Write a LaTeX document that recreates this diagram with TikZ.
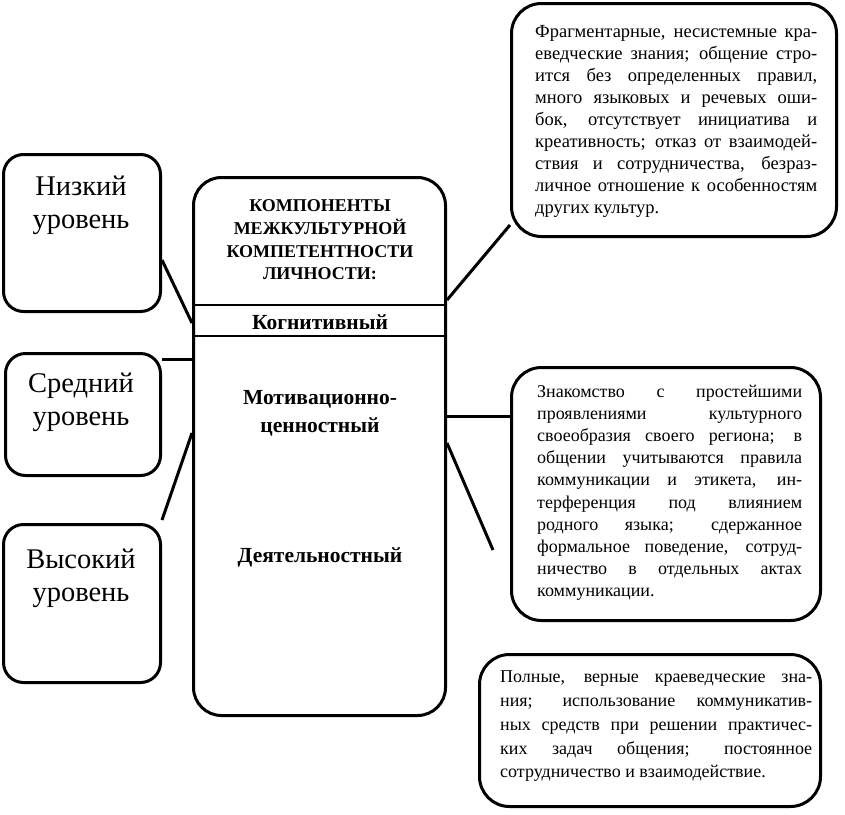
\documentclass[tikz,border=0pt]{standalone}
\usepackage{fontspec}
\setmainfont{Liberation Serif}
\begin{document}
\begin{tikzpicture}[x=1pt,y=-1pt,
  box/.style={draw, line width=3pt, rounded corners=#1, inner sep=0pt},
  box/.default=20pt,
  conn/.style={line width=3pt},
  sep/.style={line width=1.3pt},
  lvl/.style={font=\fontsize{28.5}{33}\selectfont, align=center, inner sep=0pt},
  head/.style={font=\fontsize{18}{22.7}\selectfont\bfseries, align=center, inner sep=0pt},
  comp/.style={font=\fontsize{21.5}{28}\selectfont\bfseries, align=center, inner sep=0pt},
  desc/.style={align=justify, inner sep=0pt, anchor=north west},
  dfont/.style 2 args={font=\fontsize{#1}{#2}\selectfont}]
\useasboundingbox (0,0) rectangle (845,814);
% boxes
\node[box, minimum width=157pt, minimum height=157pt] (low) at (82,233) {};
\node[box, minimum width=155pt, minimum height=122pt] (mid) at (83,414.5) {};
\node[box, minimum width=157pt, minimum height=158pt] (high) at (82,603.5) {};
\node[box=28pt, minimum width=252pt, minimum height=538pt] (core) at (319.5,446.5) {};
\node[box=30pt, minimum width=325pt, minimum height=233pt] (tr) at (674,120) {};
\node[box=30pt, minimum width=309pt, minimum height=253pt] (mr) at (666,494) {};
\node[box=30pt, minimum width=341pt, minimum height=152pt] (br) at (650,730.5) {};
% separators in core box
\draw[sep] (core.west |- 0,305) -- (core.east |- 0,305);
\draw[sep] (core.west |- 0,336) -- (core.east |- 0,336);
% level texts
\node[lvl] (tlow) at (81,205) {Низкий\\уровень};
\node[lvl] (tmid) at (81,402) {Средний\\уровень};
\node[lvl] (thigh) at (81,578) {Высокий\\уровень};
% core texts
\node[head] (thead) at (320,240) {КОМПОНЕНТЫ\\МЕЖКУЛЬТУРНОЙ\\КОМПЕТЕНТНОСТИ\\ЛИЧНОСТИ:};
\node[comp] (tcog) at (320,322) {Когнитивный};
\node[comp] (tmot) at (320,413) {Мотивационно-\\ценностный};
\node[comp] (tact) at (320,557) {Деятельностный};
% descriptions
\node[desc, dfont={18.5}{22}, text width=282pt] (ttr) at (535,25) {Фрагментарные, несистемные кра-\linebreak еведческие знания; общение стро-\linebreak ится без определенных правил,\linebreak много языковых и речевых оши-\linebreak бок, отсутствует инициатива и\linebreak креативность; отказ от взаимодей-\linebreak ствия и сотрудничества, безраз-\linebreak личное отношение к особенностям\linebreak других культур.};
\node[desc, dfont={18}{22.1}, text width=265pt] (tmr) at (537,385) {Знакомство с простейшими\linebreak проявлениями культурного\linebreak своеобразия своего региона; в\linebreak общении учитываются правила\linebreak коммуникации и этикета, ин-\linebreak терференция под влиянием\linebreak родного языка; сдержанное\linebreak формальное поведение, сотруд-\linebreak ничество в отдельных актах\linebreak коммуникации.};
\node[desc, dfont={18}{23.7}, text width=312pt] (tbr) at (500,671) {Полные, верные краеведческие зна-\linebreak ния; использование коммуникатив-\linebreak ных средств при решении практичес-\linebreak ких задач общения; постоянное\linebreak сотрудничество и взаимодействие.};
% connectors left
\draw[conn] ([yshift=-27pt]low.east) -- (core.west |- 0,323);
\draw[conn] (mid.east |- 0,359) -- (core.west |- 0,359);
\coordinate (hend) at (162,520);
\draw[conn] (hend) -- (core.west |- 0,433);
% connectors right
\draw[conn] (core.east |- 0,300) -- (tr.west |- 0,225);
\draw[conn] (core.east |- 0,416) -- (mr.west |- 0,416);
\coordinate (rend) at (493,550);
\draw[conn] (core.east |- 0,443) -- (rend);
\end{tikzpicture}
\end{document}
